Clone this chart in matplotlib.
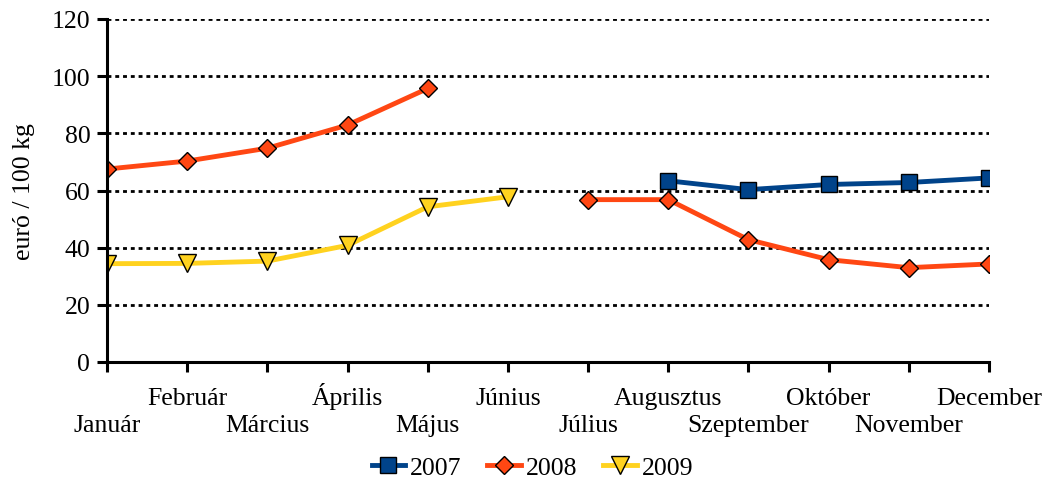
import numpy as np
import matplotlib.pyplot as plt

plt.rcParams['font.family'] = ['Liberation Serif', 'DejaVu Serif']

months = ["Január", "Február", "Március", "Április", "Május", "Június",
          "Július", "Augusztus", "Szeptember", "Október", "November", "December"]
nan = np.nan
y2007 = [nan, nan, nan, nan, nan, nan, nan, 63.4, 60.3, 62.1, 62.8, 64.4]
y2008 = [67.5, 70.3, 74.8, 82.9, 95.7, nan, 56.8, 56.8, 42.8, 35.8, 33.0, 34.3]
y2009 = [34.4, 34.5, 35.3, 40.8, 54.3, 57.8, nan, nan, nan, nan, nan, nan]

fig = plt.figure(figsize=(10.44, 4.81), dpi=100)
ax = fig.add_axes([107 / 1044, 1 - 363 / 481, (989 - 107) / 1044, (363 - 20) / 481])

x = np.arange(len(months))
ax.plot(x, y2007, color="#00438a", lw=3.5, marker="s", ms=11.5,
        mfc="#00438a", mec="black", mew=1, label="2007", zorder=4)
ax.plot(x, y2008, color="#ff4713", lw=3.5, marker="D", ms=9,
        mfc="#ff4713", mec="black", mew=1, label="2008", zorder=4)
ax.plot(x, y2009, color="#ffd21f", lw=3.5, marker="v", ms=12.5,
        mfc="#ffd21f", mec="black", mew=1, label="2009", zorder=4)

ax.set_xlim(0, 11)
ax.set_ylim(0, 120)
ax.set_yticks(range(0, 121, 20))
ax.set_xticks(x)
ax.set_xticklabels(months)
for i, t in enumerate(ax.xaxis.get_major_ticks()):
    t.set_pad(43 if i % 2 == 0 else 23)
    t.label1.set_verticalalignment("baseline")

ax.yaxis.grid(True, color="black", lw=2, linestyle=(0, (1.4, 1.4)))
ax.set_axisbelow(True)
for s in ["top", "right"]:
    ax.spines[s].set_visible(False)
for s in ["left", "bottom"]:
    ax.spines[s].set_linewidth(2.2)
ax.spines["left"].set_zorder(5)
ax.spines["bottom"].set_zorder(5)
ax.spines["bottom"].set_bounds(0, 11)
ax.tick_params(axis="both", direction="out", length=7, width=2.2, labelsize=18.5, colors="black")
ax.tick_params(axis="y", pad=5)
ax.set_ylabel("euró / 100 kg", fontsize=18.5, labelpad=12)

fig.legend(loc="lower center", bbox_to_anchor=(0.51, -0.045), ncol=3, frameon=False,
           fontsize=18.5, handlelength=1.3, columnspacing=1.0, handletextpad=0.2)

fig.savefig("out.png", dpi=100)
